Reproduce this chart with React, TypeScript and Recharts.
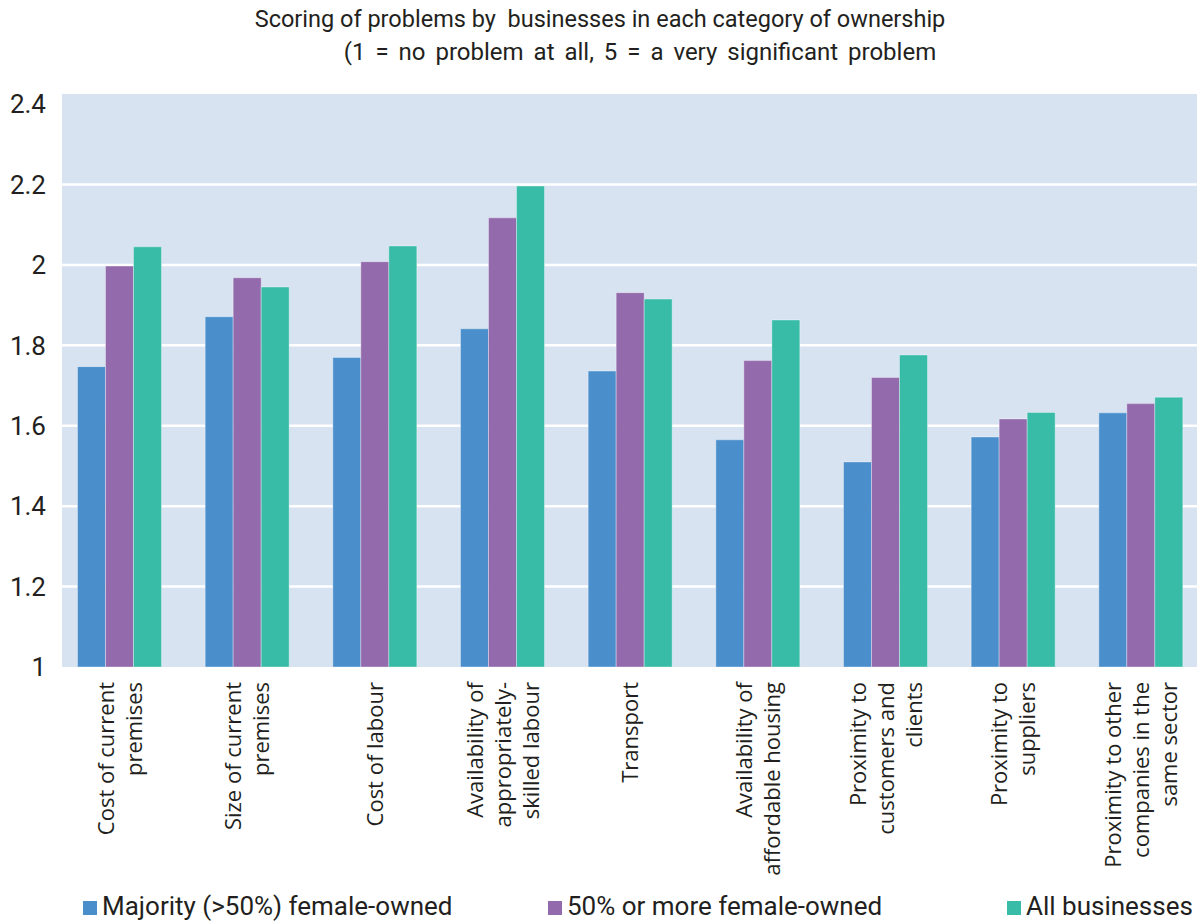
import { BarChart, Bar, XAxis, YAxis, CartesianGrid, Legend } from 'recharts'

const categories = [
  'Cost of current premises',
  'Size of current premises',
  'Cost of labour',
  'Availability of appropriately-skilled labour',
  'Transport',
  'Availability of affordable housing',
  'Proximity to customers and clients',
  'Proximity to suppliers',
  'Proximity to other companies in the same sector',
]

const tickLines = [
  ['Cost of current', 'premises'],
  ['Size of current', 'premises'],
  ['Cost of labour'],
  ['Availability of', 'appropriately-', 'skilled labour'],
  ['Transport'],
  ['Availability of', 'affordable housing'],
  ['Proximity to', 'customers and', 'clients'],
  ['Proximity to', 'suppliers'],
  ['Proximity to other', 'companies in the', 'same sector'],
]

const majorityFemale = [1.747, 1.871, 1.77, 1.841, 1.736, 1.565, 1.51, 1.572, 1.632]
const halfOrMoreFemale = [1.997, 1.968, 2.008, 2.117, 1.931, 1.762, 1.72, 1.617, 1.655]
const allBusinesses = [2.045, 1.945, 2.047, 2.196, 1.915, 1.863, 1.776, 1.633, 1.671]

const yTicks = [1, 1.2, 1.4, 1.6, 1.8, 2, 2.2, 2.4]
const gridValues = [1.2, 1.4, 1.6, 1.8, 2, 2.2]

const seriesNames = ['Majority (>50%) female-owned', '50% or more female-owned', 'All businesses']

const data = categories.map((name, i) => ({
  name,
  majority: majorityFemale[i],
  half: halfOrMoreFemale[i],
  all: allBusinesses[i],
}))

const BLUE = '#4a8fcc'
const PURPLE = '#936bad'
const GREEN = '#39bca7'
const TEXT = '#231f20'

// left edge of each legend item, in series order
const legendX = [83, 548, 1007]

function CategoryTick(props: any) {
  const { x, y, payload } = props
  const lines = tickLines[payload.index] ?? [payload.value]
  const fs = 22
  const lh = 28
  return (
    <g transform={`translate(${x},${y})`}>
      <text
        transform="rotate(-90)"
        textAnchor="end"
        fontSize={fs}
        fontFamily="'Open Sans', sans-serif"
        fill={TEXT}
      >
        {lines.map((line, i) => (
          <tspan key={i} x={0} y={(i - (lines.length - 1) / 2) * lh + fs * 0.35}>
            {line}
          </tspan>
        ))}
      </text>
    </g>
  )
}

function LegendContent(props: any) {
  const { payload } = props
  return (
    <div style={{ position: 'relative', width: 1197, height: 30 }}>
      {(payload || []).map((entry: any) => {
        const idx = seriesNames.indexOf(entry.value)
        return (
          <div
            key={entry.value}
            style={{
              position: 'absolute',
              left: legendX[idx],
              top: 0,
              display: 'flex',
              alignItems: 'flex-end',
              whiteSpace: 'nowrap',
            }}
          >
            <span
              style={{
                display: 'inline-block',
                width: 14,
                height: 14,
                background: entry.color,
                marginRight: 5,
                marginBottom: 4,
              }}
            />
            <span style={{ fontFamily: 'Roboto, sans-serif', fontSize: 26, lineHeight: 1, color: TEXT }}>
              {entry.value}
            </span>
          </div>
        )
      })}
    </div>
  )
}

export default function App() {
  return (
    <div style={{ position: 'absolute', left: 0, top: 0, width: 1197, height: 920, background: '#fff' }}>
      <div
        style={{
          position: 'absolute',
          left: 0,
          top: 8,
          width: 1200,
          textAlign: 'center',
          fontFamily: 'Roboto, sans-serif',
          fontSize: 23.5,
          lineHeight: 1,
          color: TEXT,
          whiteSpace: 'pre',
        }}
      >
        {'Scoring of problems by  businesses in each category of ownership'}
      </div>
      <div
        style={{
          position: 'absolute',
          left: 40,
          top: 40,
          width: 1200,
          textAlign: 'center',
          fontFamily: 'Roboto, sans-serif',
          fontSize: 24,
          lineHeight: 1,
          wordSpacing: 4,
          color: TEXT,
        }}
      >
        (1 = no problem at all, 5 = a very significant problem
      </div>
      <BarChart
        width={1197}
        height={920}
        data={data}
        margin={{ top: 94, right: 0, left: 0, bottom: 53 }}
        barCategoryGap={21.5}
        barGap={0}
      >
        <CartesianGrid
          vertical={false}
          fill="#d8e3f2"
          stroke="#ffffff"
          strokeWidth={2.5}
          horizontalValues={gridValues}
        />
        <XAxis
          dataKey="name"
          interval={0}
          height={200}
          axisLine={false}
          tickLine={false}
          tickSize={0}
          tickMargin={15}
          padding={{ left: -6, right: -8 }}
          tick={<CategoryTick />}
        />
        <YAxis
          width={62}
          domain={[1, 2.425]}
          ticks={yTicks}
          axisLine={false}
          tickLine={false}
          tickSize={0}
          tickMargin={16}
          tick={{ fontSize: 26, fill: TEXT, fontFamily: 'Roboto, sans-serif' }}
        />
        <Legend
          layout="horizontal"
          verticalAlign="middle"
          align="center"
          content={<LegendContent />}
          wrapperStyle={{ top: 893, left: 0, width: 1197, height: 30 }}
        />
        <Bar dataKey="majority" name={seriesNames[0]} fill={BLUE} stroke="rgba(255,255,255,0.35)" strokeWidth={1} isAnimationActive={false} />
        <Bar dataKey="half" name={seriesNames[1]} fill={PURPLE} stroke="rgba(255,255,255,0.35)" strokeWidth={1} isAnimationActive={false} />
        <Bar dataKey="all" name={seriesNames[2]} fill={GREEN} stroke="rgba(255,255,255,0.35)" strokeWidth={1} isAnimationActive={false} />
      </BarChart>
    </div>
  )
}
